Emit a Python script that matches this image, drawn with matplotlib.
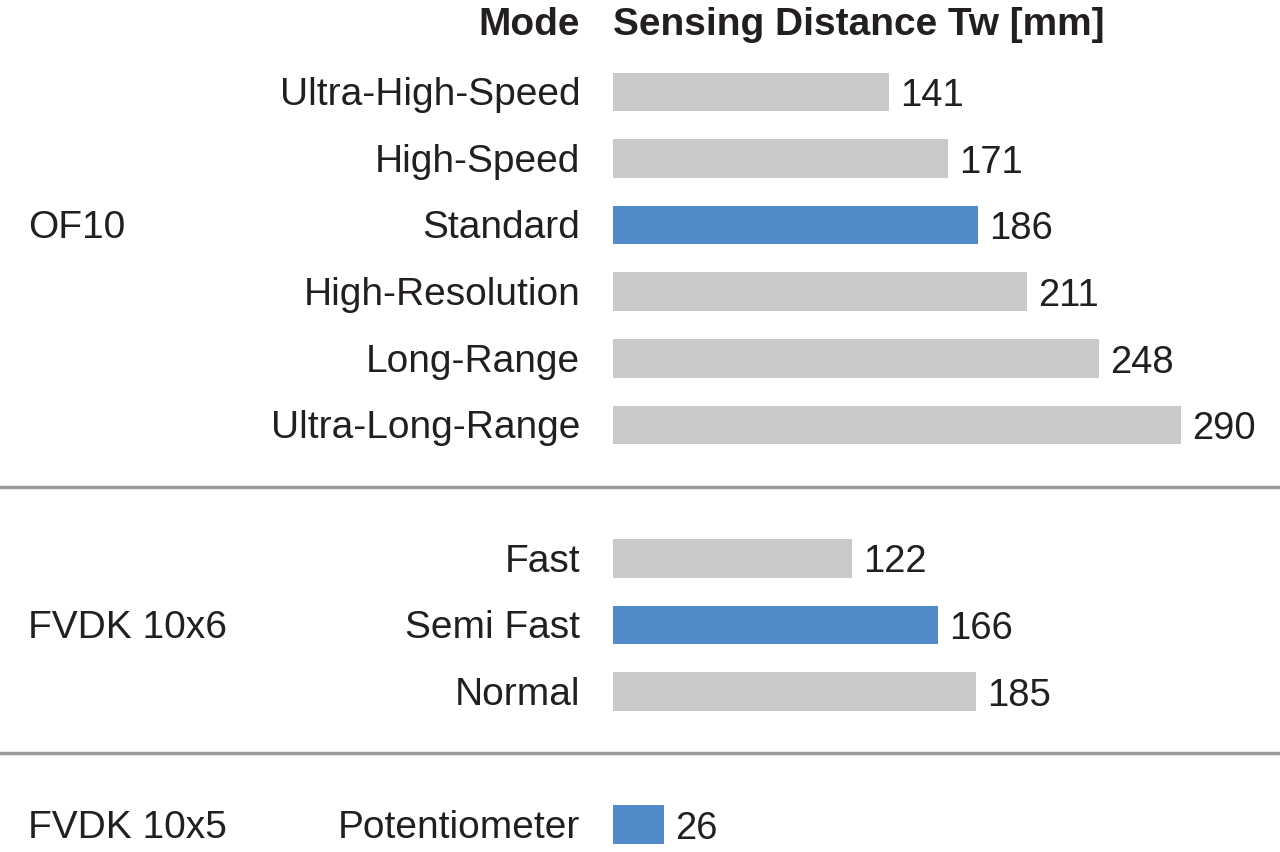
import matplotlib.pyplot as plt

plt.rcParams['font.family'] = ['Liberation Sans', 'DejaVu Sans']

# data
groups = ["OF10", "FVDK 10x6", "FVDK 10x5"]
modes = [
    ["Ultra-High-Speed", "High-Speed", "Standard", "High-Resolution", "Long-Range", "Ultra-Long-Range"],
    ["Fast", "Semi Fast", "Normal"],
    ["Potentiometer"],
]
distances = [
    [141, 171, 186, 211, 248, 290],
    [122, 166, 185],
    [26],
]
highlight = ["Standard", "Semi Fast", "Potentiometer"]

GREY = "#c8c9cb"
BLUE = "#508ac8"
TXT = "#231f20"
FS = 28

fig = plt.figure(figsize=(12.8, 8.52), dpi=100)
ax = fig.add_axes([0, 0, 1, 1])
ax.set_xlim(-312.8, 340.3)
ax.set_ylim(11.41, -1.38)
ax.axis("off")

# header
ax.text(-16.8, -1.0, "Mode", ha="right", va="center", fontsize=FS, fontweight="bold", color=TXT)
ax.text(0, -1.0, "Sensing Distance Tw [mm]", ha="left", va="center", fontsize=FS, fontweight="bold", color=TXT)

row = 0
for gi, (g, ms, ds) in enumerate(zip(groups, modes, distances)):
    ys = [row + i for i in range(len(ms))]
    cols = [BLUE if m in highlight else GREY for m in ms]
    ax.barh(ys, ds, height=0.58, color=cols)
    for y, m, d in zip(ys, ms, ds):
        ax.text(-16.8, y + 0.05, m, ha="right", va="center", fontsize=FS, color=TXT)
        ax.annotate(str(d), (d, y), xytext=(8, -3), textcoords="offset points",
                    ha="left", va="center", fontsize=FS - 0.5, color=TXT)
    # group name next to middle row
    mid = ys[len(ys) // 2 - 1] if len(ys) > 3 else ys[len(ys) // 2]
    ax.text(-298.5, mid + 0.05, g, ha="left", va="center", fontsize=FS, color=TXT)
    row += len(ms)
    if gi < len(groups) - 1:
        ax.axhline(row - 0.07, color="#999999", lw=2.5)
        row += 1

fig.savefig("out.png", dpi=100)
